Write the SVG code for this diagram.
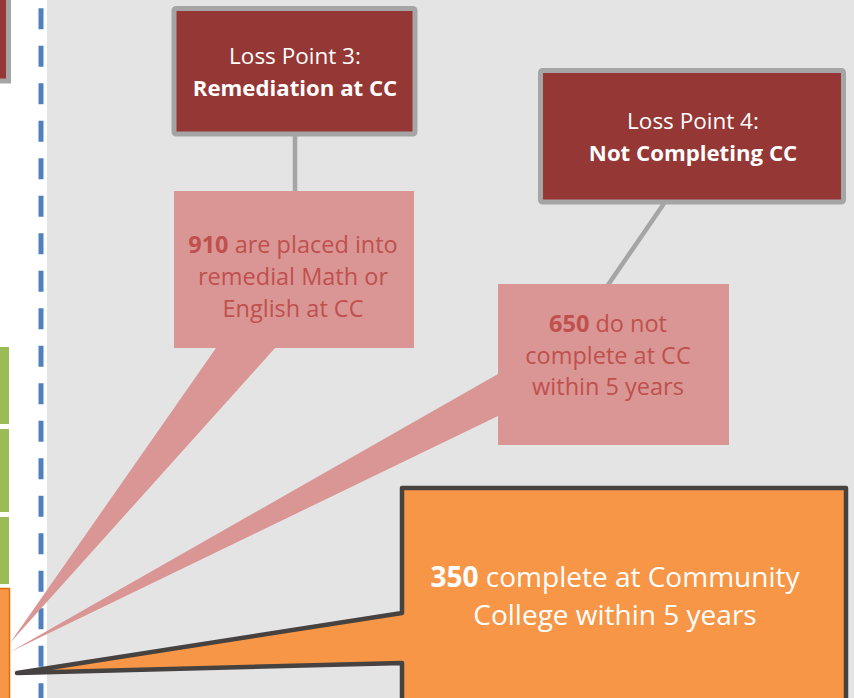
<svg xmlns="http://www.w3.org/2000/svg" width="854" height="698" viewBox="0 0 854 698">
  <style>
    .t { font-family: "Open Sans", "Noto Sans", sans-serif; text-anchor: middle; }
    .w { fill: #ffffff; }
    .pk { fill: #c0504d; }
    .b { font-weight: bold; }
    .loss { fill: #953735; stroke: #a5a5a5; stroke-width: 5; }
    .callout { fill: #d99694; }
    .conn { stroke: #a5a5a5; stroke-width: 4.5; fill: none; }
  </style>
  <rect x="0" y="0" width="854" height="698" fill="#ffffff"/>
  <rect x="47" y="0" width="807" height="698" fill="#e4e4e4"/>

  <g id="left-fragments">
    <rect x="-300" y="-100" width="308.5" height="181" class="loss" stroke-width="4"/>
    <rect x="-10" y="347" width="19" height="77" fill="#9bbb59"/>
    <rect x="-10" y="429" width="19" height="83" fill="#9bbb59"/>
    <rect x="-10" y="517" width="19" height="67" fill="#9bbb59"/>
    <rect x="-10" y="588.5" width="19.5" height="120" fill="#f79646" stroke="#e36c09" stroke-width="1.5"/>
  </g>

  <line id="divider" x1="41" y1="8.3" x2="41" y2="698" stroke="#4f81bd" stroke-width="5" stroke-dasharray="21 16.5"/>

  <g id="connectors">
    <line class="conn" x1="295" y1="134" x2="295" y2="192"/>
    <line class="conn" x1="665" y1="202" x2="608" y2="285"/>
  </g>

  <g id="loss-point-3">
    <rect x="174" y="8.5" width="241" height="125.5" rx="2" class="loss"/>
    <text class="t w" x="295" y="64" font-size="22.5">Loss Point 3:</text>
    <text class="t w b" x="295" y="96" font-size="22.2">Remediation at CC</text>
  </g>

  <g id="loss-point-4">
    <rect x="540.5" y="70.5" width="303" height="131.5" rx="2" class="loss"/>
    <text class="t w" x="693" y="129" font-size="22.5">Loss Point 4:</text>
    <text class="t w b" x="693" y="161" font-size="22.2">Not Completing CC</text>
  </g>

  <g id="callout-910">
    <path class="callout" d="M174,191 H414 V348 H275 L10,643 L216,348 H174 Z"/>
    <text class="t pk" x="293" y="253" font-size="23.5"><tspan class="b">910</tspan> are placed into</text>
    <text class="t pk" x="293" y="285" font-size="23.5">remedial Math or</text>
    <text class="t pk" x="293" y="317" font-size="23.5">English at CC</text>
  </g>

  <g id="callout-650">
    <path class="callout" d="M498,284 H729 V445 H498 V416 L10,652 L498,374 Z"/>
    <text class="t pk" x="608" y="332" font-size="23.5"><tspan class="b">650</tspan> do not</text>
    <text class="t pk" x="608" y="363.5" font-size="23.5">complete at CC</text>
    <text class="t pk" x="608" y="395" font-size="23.5">within 5 years</text>
  </g>

  <g id="callout-350">
    <path d="M402,488 H846 V710 H402 V663 L17,673 L402,613 Z" fill="#f79646" stroke="#454240" stroke-width="4.5" stroke-linejoin="round"/>
    <text class="t w" x="615" y="587" font-size="28"><tspan class="b">350</tspan> complete at Community</text>
    <text class="t w" x="615" y="625" font-size="28">College within 5 years</text>
  </g>
</svg>
